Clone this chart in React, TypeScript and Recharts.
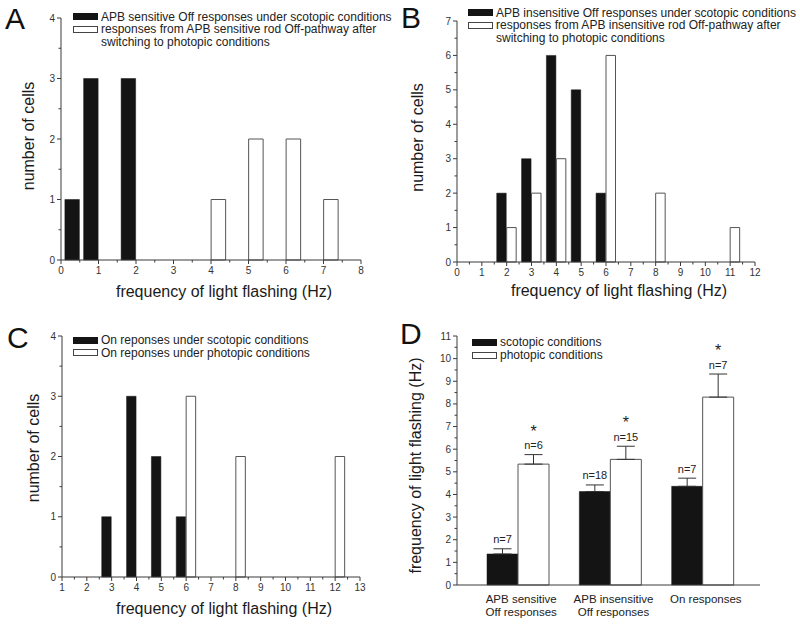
import React from "react";
import {
  BarChart,
  Bar,
  XAxis,
  YAxis,
  ErrorBar,
  LabelList,
  Legend,
  Label,
} from "recharts";

const FONT = "'Liberation Sans', Arial, Helvetica, sans-serif";
const AXIS = "#3a3a3a";
const TXT = "#333";
const BLACK = "#141414";
const EDGE = "#555";

// A: APB sensitive Off responses
const aScotFreq = [0.5, 1, 2];
const aScotCells = [1, 3, 3];
const aPhotFreq = [4, 5, 6, 7];
const aPhotCells = [1, 2, 2, 1];
const aXTicks = [0, 1, 2, 3, 4, 5, 6, 7, 8];
const aYTicks = [0, 1, 2, 3, 4];
const aLegend = [
  "APB sensitive Off responses under scotopic conditions",
  "responses from APB sensitive rod Off-pathway after\nswitching to photopic conditions",
];

// B: APB insensitive Off responses
const bScotFreq = [2, 3, 4, 5, 6];
const bScotCells = [2, 3, 6, 5, 2];
const bPhotFreq = [2, 3, 4, 6, 8, 11];
const bPhotCells = [1, 2, 3, 6, 2, 1];
const bXTicks = [0, 1, 2, 3, 4, 5, 6, 7, 8, 9, 10, 11, 12];
const bYTicks = [0, 1, 2, 3, 4, 5, 6, 7];
const bLegend = [
  "APB insensitive Off responses under scotopic conditions",
  "responses from APB insensitive rod Off-pathway after\nswitching to photopic conditions",
];

// C: On responses
const cScotFreq = [3, 4, 5, 6];
const cScotCells = [1, 3, 2, 1];
const cPhotFreq = [6, 8, 12];
const cPhotCells = [3, 2, 2];
const cXTicks = [1, 2, 3, 4, 5, 6, 7, 8, 9, 10, 11, 12, 13];
const cYTicks = [0, 1, 2, 3, 4];
const cLegend = [
  "On reponses under scotopic conditions",
  "On reponses under photopic conditions",
];

// D: mean frequency
const dCategories = [
  "APB sensitive\nOff responses",
  "APB insensitive\nOff responses",
  "On responses",
];
const dScotMean = [1.37, 4.13, 4.36];
const dScotErr = [0.23, 0.29, 0.36];
const dPhotMean = [5.34, 5.55, 8.3];
const dPhotErr = [0.42, 0.58, 1.02];
const dScotN = [7, 18, 7];
const dPhotN = [6, 15, 7];
const dPhotSig = [true, true, true];
const dYTicks = [0, 1, 2, 3, 4, 5, 6, 7, 8, 9, 10, 11];
const dLegend = ["scotopic conditions", "photopic conditions"];

// bars of 0.4 Hz: scotopic just left of the bin value, photopic just right
function histRows(sf: number[], sc: number[], pf: number[], pc: number[]) {
  const rows: any[] = [
    ...sf.map((f, i) => ({ x: +(f - 0.2).toFixed(2), scot: sc[i] })),
    ...pf.map((f, i) => ({ x: +(f + 0.2).toFixed(2), phot: pc[i] })),
  ];
  return rows.sort((a, b) => a.x - b.x);
}

function withHalves(ticks: number[]) {
  return ticks.flatMap((t, i) => (i < ticks.length - 1 ? [t, t + 0.5] : [t]));
}

const YTick = (props: any) => {
  const { x, y, payload } = props;
  const v = payload.value;
  const major = Number.isInteger(v);
  return (
    <g>
      <line x1={x - (major ? 4 : 2.5)} x2={x} y1={y} y2={y} stroke={AXIS} />
      {major && (
        <text x={x - 6} y={y + 3.5} textAnchor="end" fontSize={10} fill={TXT} fontFamily={FONT}>
          {v}
        </text>
      )}
    </g>
  );
};

const XTick = (props: any) => {
  const { x, y, payload } = props;
  const v = payload.value;
  const major = Number.isInteger(v);
  return (
    <g>
      <line x1={x} x2={x} y1={y} y2={y + (major ? 4 : 2.5)} stroke={AXIS} />
      {major && (
        <text x={x} y={y + 14} textAnchor="middle" fontSize={10} fill={TXT} fontFamily={FONT}>
          {v}
        </text>
      )}
    </g>
  );
};

const CatTick = (props: any) => {
  const { x, y, payload } = props;
  const lines = String(payload.value).split("\n");
  return (
    <text x={x + 3} y={y + 17.5} textAnchor="middle" fontSize={11.5} fill="#222" fontFamily={FONT}>
      {lines.map((l, i) => (
        <tspan key={i} x={x + 3} dy={i === 0 ? 0 : 13}>
          {l}
        </tspan>
      ))}
    </text>
  );
};

function LegendBox({ labels, lineHeight }: { labels: string[]; lineHeight: number }) {
  return (
    <div style={{ fontFamily: FONT, fontSize: 12, lineHeight: `${lineHeight}px`, color: "#222" }}>
      {labels.map((l, i) => (
        <div key={i} style={{ display: "flex", alignItems: "flex-start" }}>
          <div
            style={{
              width: 25,
              height: 7,
              marginTop: (lineHeight - 7) / 2,
              boxSizing: "border-box",
              background: i === 0 ? BLACK : "#fff",
              border: `1px solid ${i === 0 ? BLACK : "#444"}`,
              flex: "none",
            }}
          />
          <div style={{ marginLeft: 3, whiteSpace: "pre" }}>{l}</div>
        </div>
      ))}
    </div>
  );
}

type HistProps = {
  rows: any[];
  xDomain: [number, number];
  xTicks: number[];
  yTicks: number[];
  barSize: number;
  margin: { top: number; right: number; left: number; bottom: number };
  yWidth: number;
  xHeight: number;
  yTitle: [number, number];
  xTitle: [number, number];
  legend: string[];
  legendPos: { top: number; left: number };
};

function Histogram(p: HistProps) {
  return (
    <BarChart width={400} height={312} data={p.rows} margin={p.margin} barSize={p.barSize}>
      <XAxis
        type="number"
        dataKey="x"
        domain={p.xDomain}
        ticks={withHalves(p.xTicks)}
        interval={0}
        tick={<XTick />}
        tickLine={false}
        tickSize={0}
        tickMargin={0}
        height={p.xHeight}
        axisLine={{ stroke: AXIS }}
        allowDataOverflow
      >
        <Label
          value="frequency of light flashing (Hz)"
          position="center"
          dx={p.xTitle[0]}
          dy={p.xTitle[1]}
          style={{ fontSize: 16, fill: "#1a1a1a", fontFamily: FONT }}
        />
      </XAxis>
      <YAxis
        type="number"
        domain={[p.yTicks[0], p.yTicks[p.yTicks.length - 1]]}
        ticks={withHalves(p.yTicks)}
        interval={0}
        tick={<YTick />}
        tickLine={false}
        tickSize={0}
        tickMargin={0}
        width={p.yWidth}
        axisLine={{ stroke: AXIS }}
      >
        <Label
          value="number of cells"
          position="center"
          angle={-90}
          dx={p.yTitle[0]}
          dy={p.yTitle[1]}
          style={{ fontSize: 16, fill: "#1a1a1a", fontFamily: FONT, textAnchor: "middle" }}
        />
      </YAxis>
      <Legend
        layout="horizontal"
        verticalAlign="middle"
        align="center"
        wrapperStyle={{ top: p.legendPos.top, left: p.legendPos.left, width: "auto" }}
        content={() => <LegendBox labels={p.legend} lineHeight={12.5} />}
      />
      <Bar dataKey="scot" stackId="h" fill={BLACK} stroke={BLACK} strokeWidth={0.5} isAnimationActive={false} />
      <Bar dataKey="phot" stackId="h" fill="#fff" stroke={EDGE} strokeWidth={1} isAnimationActive={false} />
    </BarChart>
  );
}

const dRows = dCategories.map((name, i) => ({
  name,
  scot: dScotMean[i],
  phot: dPhotMean[i],
  scotErr: [0, dScotErr[i]],
  photErr: [0, dPhotErr[i]],
  scotN: dScotN[i],
  photN: dPhotN[i],
  sig: dPhotSig[i],
}));

const makeNLabel = (meanKey: string, errKey: string, nKey: string, withStar: boolean) => (props: any) => {
  const vb = props.viewBox || props;
  const { x, y, width, height } = vb;
  const row: any = dRows[props.index];
  if (!row) return null;
  const top = y - (row[errKey][1] / row[meanKey]) * height;
  const cx = x + width / 2;
  const nBase = top - 5.5;
  return (
    <g fontFamily={FONT}>
      <text x={cx} y={nBase} textAnchor="middle" fontSize={11} fill="#222">
        {`n=${row[nKey]}`}
      </text>
      {withStar && row.sig && (
        <text x={cx} y={nBase - 12.5} textAnchor="middle" fontSize={16} fill="#222">
          *
        </text>
      )}
    </g>
  );
};

function MeanChart() {
  return (
    <BarChart
      width={400}
      height={312}
      data={dRows}
      margin={{ top: 24, right: 40, left: 0, bottom: 0 }}
      barSize={31}
      barGap={0}
    >
      <XAxis
        dataKey="name"
        interval={0}
        tick={<CatTick />}
        tickLine={false}
        tickSize={0}
        tickMargin={0}
        height={39}
        padding={{ left: 15, right: 11 }}
        axisLine={{ stroke: AXIS }}
      />
      <YAxis
        type="number"
        domain={[0, 11]}
        ticks={withHalves(dYTicks)}
        interval={0}
        tick={<YTick />}
        tickLine={false}
        tickSize={0}
        tickMargin={0}
        width={57}
        axisLine={{ stroke: AXIS }}
      >
        <Label
          value="frequency of light flashing (Hz)"
          position="center"
          angle={-90}
          dx={-13.5}
          dy={5}
          style={{ fontSize: 16, fill: "#1a1a1a", fontFamily: FONT, textAnchor: "middle" }}
        />
      </YAxis>
      <Legend
        layout="horizontal"
        verticalAlign="middle"
        align="center"
        wrapperStyle={{ top: 23.5, left: 72, width: "auto" }}
        content={() => <LegendBox labels={dLegend} lineHeight={13} />}
      />
      <Bar dataKey="scot" fill={BLACK} stroke={BLACK} strokeWidth={0.5} isAnimationActive={false}>
        <ErrorBar dataKey="scotErr" width={9} stroke="#333" strokeWidth={1} direction="y" />
        <LabelList dataKey="scot" content={makeNLabel("scot", "scotErr", "scotN", false)} />
      </Bar>
      <Bar dataKey="phot" fill="#fff" stroke={EDGE} strokeWidth={1} isAnimationActive={false}>
        <ErrorBar dataKey="photErr" width={9} stroke="#333" strokeWidth={1} direction="y" />
        <LabelList dataKey="phot" content={makeNLabel("phot", "photErr", "photN", true)} />
      </Bar>
    </BarChart>
  );
}

const letterStyle: React.CSSProperties = {
  position: "absolute",
  fontFamily: FONT,
  fontSize: 30,
  lineHeight: "30px",
  color: "#111",
};

export default function App() {
  return (
    <div style={{ position: "absolute", left: 0, top: 0, width: 800, height: 624, background: "#fff", overflow: "hidden" }}>
      <div style={{ position: "absolute", left: 0, top: 0 }}>
        <Histogram
          rows={histRows(aScotFreq, aScotCells, aPhotFreq, aPhotCells)}
          xDomain={[0, 8]}
          xTicks={aXTicks}
          yTicks={aYTicks}
          barSize={14.5}
          margin={{ top: 18, right: 39, left: 0, bottom: 0 }}
          yWidth={61}
          xHeight={52}
          yTitle={[-2.5, -3]}
          xTitle={[13, 5]}
          legend={aLegend}
          legendPos={{ top: 10.5, left: 73 }}
        />
      </div>
      <div style={{ position: "absolute", left: 400, top: 0 }}>
        <Histogram
          rows={histRows(bScotFreq, bScotCells, bPhotFreq, bPhotCells)}
          xDomain={[0, 12]}
          xTicks={bXTicks}
          yTicks={bYTicks}
          barSize={9.5}
          margin={{ top: 21, right: 45, left: 0, bottom: 0 }}
          yWidth={57}
          xHeight={50}
          yTitle={[-11.5, -4]}
          xTitle={[13, 3]}
          legend={bLegend}
          legendPos={{ top: 6.5, left: 68 }}
        />
      </div>
      <div style={{ position: "absolute", left: 0, top: 312 }}>
        <Histogram
          rows={histRows(cScotFreq, cScotCells, cPhotFreq, cPhotCells)}
          xDomain={[1, 13]}
          xTicks={cXTicks}
          yTicks={cYTicks}
          barSize={9.5}
          margin={{ top: 24, right: 40, left: 0, bottom: 0 }}
          yWidth={62}
          xHeight={47}
          yTitle={[2, -8.5]}
          xTitle={[13, 8]}
          legend={cLegend}
          legendPos={{ top: 22, left: 73 }}
        />
      </div>
      <div style={{ position: "absolute", left: 400, top: 312 }}>
        <MeanChart />
      </div>
      <div style={{ ...letterStyle, left: 5, top: 4 }}>A</div>
      <div style={{ ...letterStyle, left: 401, top: 3 }}>B</div>
      <div style={{ ...letterStyle, left: 7, top: 323 }}>C</div>
      <div style={{ ...letterStyle, left: 400, top: 319 }}>D</div>
    </div>
  );
}
